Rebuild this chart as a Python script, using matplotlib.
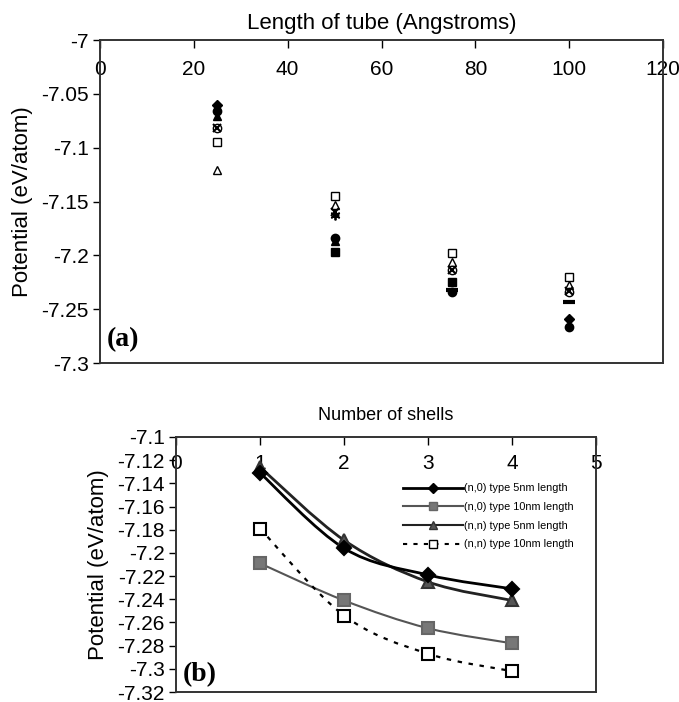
import numpy as np
import matplotlib
matplotlib.use("Agg")
import matplotlib.pyplot as plt
from matplotlib.path import Path
from matplotlib.patches import PathPatch
from matplotlib.lines import Line2D
from matplotlib.ticker import FuncFormatter, MultipleLocator

plt.rcParams['font.family'] = ['Liberation Sans', 'DejaVu Sans']

# ---------------- Panel (a) data ----------------
tube_length = [25, 50, 75, 100]
a_filled_diamond = [-7.060, np.nan, np.nan, -7.259]
a_filled_circle = [-7.066, -7.184, -7.234, -7.267]
a_filled_triangle = [-7.071, -7.187, np.nan, np.nan]
a_filled_square = [np.nan, -7.197, -7.225, np.nan]
a_open_square = [-7.095, -7.145, -7.198, -7.220]
a_open_triangle = [-7.121, -7.153, -7.206, -7.228]
a_open_circle = [-7.082, np.nan, -7.214, -7.234]
a_cross = [-7.082, -7.160, -7.214, -7.233]
a_star = [np.nan, -7.163, np.nan, np.nan]
a_bar = [np.nan, np.nan, -7.232, -7.243]

# ---------------- Panel (b) data ----------------
shells = [1, 2, 3, 4]
b_n0_5nm = [-7.131, -7.196, -7.219, -7.231]
b_n0_10nm = [-7.209, -7.241, -7.265, -7.278]
b_nn_5nm = [-7.126, -7.189, -7.225, -7.241]
b_nn_10nm = [-7.179, -7.254, -7.287, -7.302]
b_labels = ["(n,0) type 5nm length", "(n,0) type 10nm length",
            "(n,n) type 5nm length", "(n,n) type 10nm length"]

W, H = 679, 702
fig = plt.figure(figsize=(W / 100, H / 100), dpi=100)

def fmt(v, pos):
    return ('%.2f' % v).rstrip('0').rstrip('.')

# ---------- panel (a) ----------
axa = fig.add_axes([100 / W, 1 - 363 / H, (663 - 100) / W, (363 - 40) / H])
axa.set_xlim(0, 120)
axa.set_ylim(-7.3, -7.0)
ms = 6
k = dict(linestyle='none', color='black')
axa.plot(tube_length, a_open_triangle, marker='^', markersize=ms, markerfacecolor='white', markeredgecolor='black', **k)
axa.plot(tube_length, a_open_square, marker='s', markersize=ms, markerfacecolor='white', markeredgecolor='black', **k)
axa.plot(tube_length, a_open_circle, marker='o', markersize=ms, markerfacecolor='white', markeredgecolor='black', **k)
axa.plot(tube_length, a_cross, marker='x', markersize=ms, markeredgewidth=1.5, **k)
axa.plot(tube_length, a_star, marker=(6, 2, 0), markersize=ms + 1, markeredgewidth=1.3, **k)
axa.plot(tube_length, a_filled_square, marker='s', markersize=ms, **k)
axa.plot(tube_length, a_filled_triangle, marker='^', markersize=ms, **k)
axa.plot(tube_length, a_filled_circle, marker='o', markersize=ms, **k)
axa.plot(tube_length, a_filled_diamond, marker='D', markersize=ms - 1, **k)
axa.plot(tube_length, a_bar, marker='_', markersize=ms + 2, markeredgewidth=3, **k)

axa.xaxis.set_major_locator(MultipleLocator(20))
axa.yaxis.set_major_locator(MultipleLocator(0.05))
axa.yaxis.set_major_formatter(FuncFormatter(fmt))
axa.xaxis.tick_top()
axa.tick_params(axis='x', direction='in', length=6, pad=-28, labelsize=15, width=1)
axa.tick_params(axis='y', direction='out', length=5, labelsize=15, width=1, pad=3)
for sp in axa.spines.values():
    sp.set_color('#333333')
    sp.set_linewidth(1.4)
axa.set_title("Length of tube (Angstroms)", fontsize=16, pad=8)
axa.set_ylabel("Potential (eV/atom)", fontsize=16, labelpad=6)
axa.text(0.012, 0.035, "(a)", transform=axa.transAxes, fontsize=20,
         fontweight='bold', family='Liberation Serif', ha='left', va='bottom')

# ---------- panel (b) ----------
axb = fig.add_axes([176 / W, 1 - 692 / H, (596 - 176) / W, (692 - 437) / H])
axb.set_xlim(0, 5)
axb.set_ylim(-7.32, -7.1)

def smooth_path(x, y):
    p = np.column_stack([x, y]).astype(float)
    n = len(p)
    verts = [p[0]]
    codes = [Path.MOVETO]
    for i in range(n - 1):
        p0 = p[i - 1] if i > 0 else p[i]
        p1 = p[i]
        p2 = p[i + 1]
        p3 = p[i + 2] if i + 2 < n else p[i + 1]
        c1 = p1 + (p2 - p0) / 6.0
        c2 = p2 - (p3 - p1) / 6.0
        verts += [c1, c2, p2]
        codes += [Path.CURVE4] * 3
    return Path(np.array(verts), codes)

series = [
    (b_n0_10nm, '#555555', 1.5, '-', 's', '#777777', '#666666', 8.5),
    (b_nn_10nm, 'black', 1.6, (0, (2, 3)), 's', 'white', 'black', 8.5),
    (b_nn_5nm, '#222222', 2.0, '-', '^', '#555555', '#333333', 8.5),
    (b_n0_5nm, 'black', 2.0, '-', 'D', 'black', 'black', 7),
]
for yv, lc, lw, ls, mk, mfc, mec, msz in series:
    patch = PathPatch(smooth_path(shells, yv), facecolor='none', edgecolor=lc,
                      linewidth=lw, linestyle=ls, transform=axb.transData)
    axb.add_patch(patch)
    axb.plot(shells, yv, linestyle='none', marker=mk, markersize=msz,
             markerfacecolor=mfc, markeredgecolor=mec, markeredgewidth=1.5)

handles = [
    Line2D([], [], color='black', lw=2, marker='D', markersize=5, markerfacecolor='black'),
    Line2D([], [], color='#555555', lw=1.5, marker='s', markersize=6, markerfacecolor='#777777', markeredgecolor='#666666'),
    Line2D([], [], color='#222222', lw=1.5, marker='^', markersize=6, markerfacecolor='#555555', markeredgecolor='#333333'),
    Line2D([], [], color='black', lw=1.5, linestyle=(0, (2, 3)), marker='s', markersize=6, markerfacecolor='white', markeredgecolor='black'),
]
axb.legend(handles, b_labels, loc='upper left', bbox_to_anchor=(398 / W, 1 - 478 / H),
           bbox_transform=fig.transFigure, frameon=False, fontsize=7.8,
           handlelength=5.5, handletextpad=0.1, labelspacing=0.8, borderpad=0)

axb.xaxis.set_major_locator(MultipleLocator(1))
axb.yaxis.set_major_locator(MultipleLocator(0.02))
axb.yaxis.set_major_formatter(FuncFormatter(fmt))
axb.xaxis.tick_top()
axb.tick_params(axis='x', direction='in', length=6, pad=-26, labelsize=15, width=1)
axb.tick_params(axis='y', direction='out', length=5, labelsize=15, width=1, pad=3)
for sp in axb.spines.values():
    sp.set_color('#333333')
    sp.set_linewidth(1.4)
axb.set_title("Number of shells", fontsize=13, pad=12)
axb.set_ylabel("Potential (eV/atom)", fontsize=16, labelpad=6)
axb.text(0.015, 0.02, "(b)", transform=axb.transAxes, fontsize=20,
         fontweight='bold', family='Liberation Serif', ha='left', va='bottom')

fig.savefig("out.png", dpi=100)
